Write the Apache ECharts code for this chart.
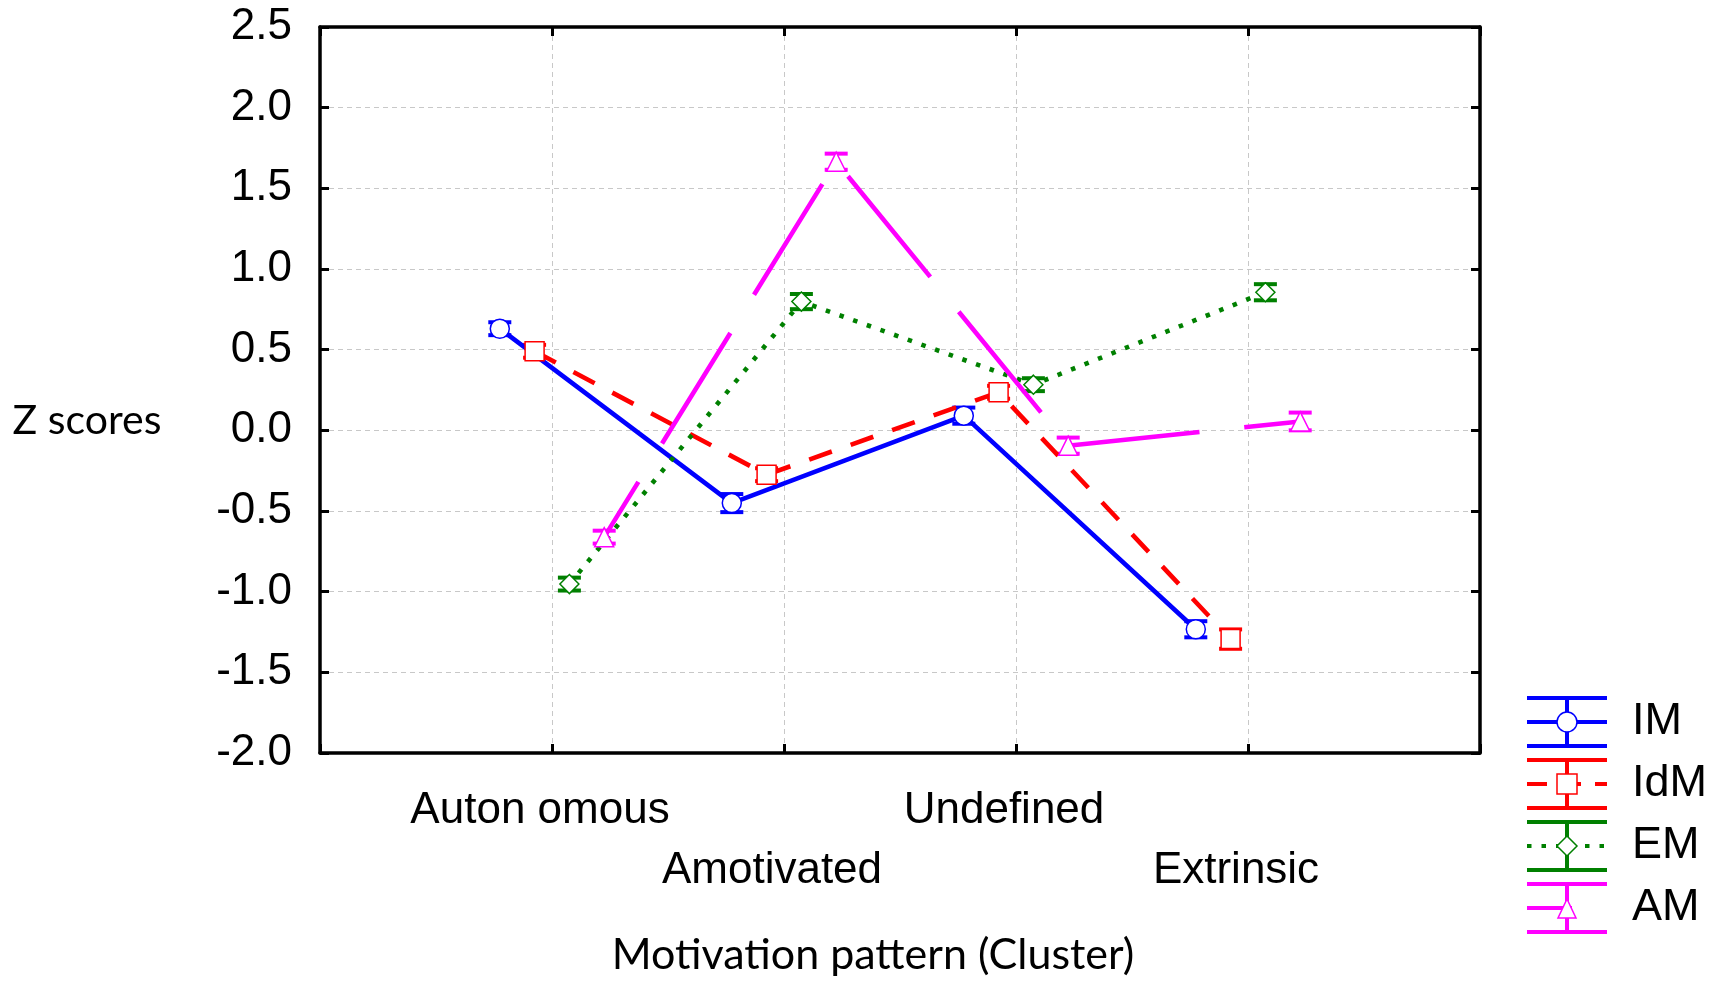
<!DOCTYPE html>
<html><head><meta charset="utf-8">
<script src="https://cdn.jsdelivr.net/npm/echarts/dist/echarts.min.js"></script>
<style>html,body{margin:0;padding:0;background:#fff}#c{width:1713px;height:981px}</style>
</head><body><div id="c"></div>
<script>
// ---- data ----
const categories = ['Auton omous', 'Amotivated', 'Undefined', 'Extrinsic'];
const seriesNames = ['IM', 'IdM', 'EM', 'AM'];
const imValues  = [0.63, -0.451, 0.091, -1.233];
const idmValues = [0.49, -0.275, 0.236, -1.294];
const emValues  = [-0.953, 0.798, 0.283, 0.856];
const amValues  = [-0.662, 1.665, -0.095, 0.055];
const imErr  = [0.04, 0.056, 0.05, 0.05];
const idmErr = [0.04, 0.04, 0.04, 0.06];
const emErr  = [0.04, 0.047, 0.04, 0.05];
const amErr  = [0.04, 0.05, 0.05, 0.055];
const yMin = -2.0, yMax = 2.5, yStep = 0.5;

// ---- styles ----
const amDash = [65, 45, 130, 45, 130, 45, 130, 45, 130, 45, 130, 45, 130, 45, 130, 45];
const styles = [
  {color: '#0000ff', symbol: 'circle',   dash: 'solid',   offset: -0.225},
  {color: '#ff0000', symbol: 'rect',     dash: [24, 20],  offset: -0.075},
  {color: '#008000', symbol: 'diamond',  dash: [4.5, 10], offset: 0.075},
  {color: '#ff00ff', symbol: 'triangle', dash: amDash,    offset: 0.225}
];
const allValues = [imValues, idmValues, emValues, amValues];
const allErr = [imErr, idmErr, emErr, amErr];
const F = '"Liberation Sans", Arial, sans-serif';
const F2 = 'Lato, "Open Sans", sans-serif';

const chart = echarts.init(document.getElementById('c'), null, {renderer: 'canvas'});

function errRenderer(color) {
  return function (params, api) {
    const x = api.value(0), lo = api.value(1), hi = api.value(2);
    const pLo = api.coord([x, lo]), pHi = api.coord([x, hi]);
    const hw = 11.5;
    return {type: 'group', children: [
      {type: 'line', shape: {x1: pHi[0], y1: pHi[1], x2: pLo[0], y2: pLo[1]}, style: {stroke: color, lineWidth: 3}},
      {type: 'line', shape: {x1: pHi[0] - hw, y1: pHi[1], x2: pHi[0] + hw, y2: pHi[1]}, style: {stroke: color, lineWidth: 4}},
      {type: 'line', shape: {x1: pLo[0] - hw, y1: pLo[1], x2: pLo[0] + hw, y2: pLo[1]}, style: {stroke: color, lineWidth: 4}}
    ]};
  };
}

const series = [];
seriesNames.forEach((name, s) => {
  const st = styles[s];
  series.push({
    name: name + ' err', type: 'custom', z: 2,
    renderItem: errRenderer(st.color),
    data: allValues[s].map((v, i) => [i + 1 + st.offset, v - allErr[s][i], v + allErr[s][i]]),
    silent: true
  });
});
seriesNames.forEach((name, s) => {
  const st = styles[s];
  series.push({
    name: name, type: 'line', z: 3,
    data: allValues[s].map((v, i) => [i + 1 + st.offset, v]),
    symbol: st.symbol, symbolSize: 19,
    showAllSymbol: true,
    lineStyle: {color: st.color, width: 4.6, type: st.dash, cap: 'butt'},
    itemStyle: {color: '#ffffff', borderColor: st.color, borderWidth: 1.5}
  });
});

// ---- legend drawn as graphic ----
const legendX0 = 1527, legendX1 = 1607, stemX = 1567, textX = 1632;
const legendY = [722, 784, 846, 908];
const legendDash = [null, [20, 14], [4.5, 10], [45, 40]];
const graphics = [];
seriesNames.forEach((name, s) => {
  const st = styles[s];
  const cy = legendY[s];
  const c = st.color;
  graphics.push({type: 'line', shape: {x1: legendX0, y1: cy - 24, x2: legendX1, y2: cy - 24}, style: {stroke: c, lineWidth: 4}});
  graphics.push({type: 'line', shape: {x1: legendX0, y1: cy + 24, x2: legendX1, y2: cy + 24}, style: {stroke: c, lineWidth: 4}});
  graphics.push({type: 'line', shape: {x1: stemX, y1: cy - 24, x2: stemX, y2: cy + 24}, style: {stroke: c, lineWidth: 4}});
  graphics.push({type: 'line', shape: {x1: legendX0, y1: cy, x2: legendX1, y2: cy},
    style: {stroke: c, lineWidth: 4, lineDash: legendDash[s]}});
  const ms = {fill: '#fff', stroke: c, lineWidth: 1.5};
  if (st.symbol === 'circle') graphics.push({type: 'circle', shape: {cx: stemX, cy: cy, r: 10}, style: ms});
  else if (st.symbol === 'rect') graphics.push({type: 'rect', shape: {x: stemX - 10, y: cy - 10, width: 20, height: 20}, style: ms});
  else if (st.symbol === 'diamond') graphics.push({type: 'polygon', shape: {points: [[stemX, cy - 10], [stemX + 10, cy], [stemX, cy + 10], [stemX - 10, cy]]}, style: ms});
  else graphics.push({type: 'polygon', shape: {points: [[stemX, cy - 9], [stemX + 9, cy + 10], [stemX - 9, cy + 10]]}, style: ms});
  graphics.push({type: 'text', x: textX, y: cy, style: {text: name, fill: '#000', font: '45px ' + F, textAlign: 'left', textVerticalAlign: 'middle'}});
});
graphics.push({type: 'text', x: 87, y: 421, style: {text: 'Z scores', fill: '#000', font: '41px ' + F2, textAlign: 'center', textVerticalAlign: 'middle'}});
graphics.push({type: 'text', x: 873, y: 955, style: {text: 'Motivation pattern (Cluster)', fill: '#000', font: '43px ' + F2, textAlign: 'center', textVerticalAlign: 'middle'}});

const axisLine = {show: true, onZero: false, lineStyle: {color: '#000', width: 3.5}};
const axisTick = {show: true, inside: true, length: 9, lineStyle: {color: '#000', width: 3}};
const splitLine = {show: true, lineStyle: {color: '#c8c8c8', width: 1, type: [5, 4]}};

chart.setOption({
  animation: false,
  backgroundColor: '#fff',
  grid: {left: 320, right: 233, top: 27, bottom: 228, containLabel: false},
  xAxis: [
    {type: 'value', min: 0, max: 5, interval: 1, position: 'bottom',
     axisLine: axisLine, axisTick: axisTick, splitLine: splitLine,
     axisLabel: {show: true, color: '#000', fontFamily: F, fontSize: 44, margin: 28, lineHeight: 60,
       padding: [0, 24, 0, 0],
       formatter: function (v) {
         const i = Math.round(v) - 1;
         if (i < 0 || i >= categories.length) return '';
         return (i % 2 === 1 ? '\n' : '') + categories[i];
       }}},
    {type: 'value', min: 0, max: 5, interval: 1, position: 'top',
     axisLine: axisLine, axisTick: axisTick, splitLine: {show: false}, axisLabel: {show: false}}
  ],
  yAxis: [
    {type: 'value', min: yMin, max: yMax, interval: yStep, position: 'left',
     axisLine: axisLine, axisTick: axisTick, splitLine: splitLine,
     axisLabel: {color: '#000', fontFamily: F, fontSize: 44, margin: 28, formatter: v => v.toFixed(1)}},
    {type: 'value', min: yMin, max: yMax, interval: yStep, position: 'right',
     axisLine: axisLine, axisTick: axisTick, splitLine: {show: false}, axisLabel: {show: false}}
  ],
  series: series,
  graphic: graphics
});
</script>
</body></html>
